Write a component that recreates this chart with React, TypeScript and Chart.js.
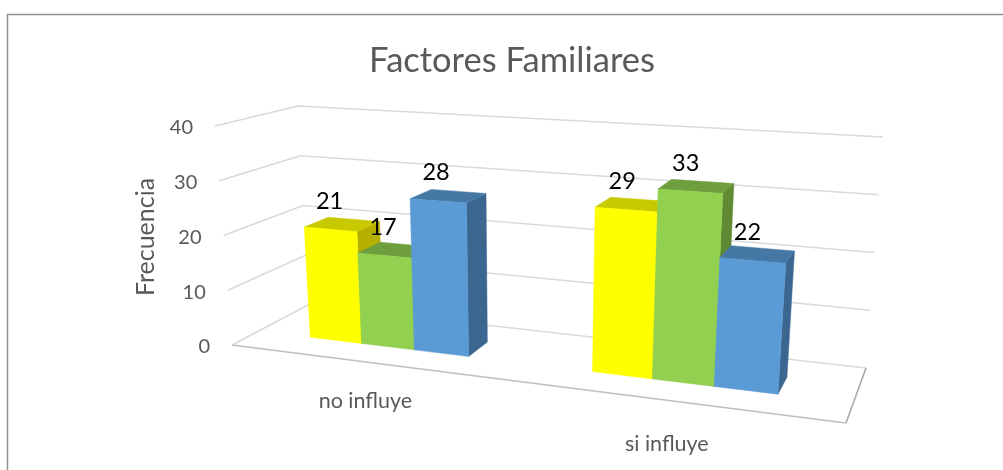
import React, { useEffect, useRef } from "react";
import { Chart, registerables } from "chart.js";

Chart.register(...registerables);

const categories = ["no influye", "si influye"];
const yellowValues = [21, 29];
const greenValues = [17, 33];
const blueValues = [28, 22];
const titleText = "Factores Familiares";
const yAxisTitle = "Frecuencia";

type P = [number, number];

function quad(p0: P, p1: P, p2: P, p3: P) {
  const dx1 = p1[0] - p2[0], dx2 = p3[0] - p2[0], sx = p0[0] - p1[0] + p2[0] - p3[0];
  const dy1 = p1[1] - p2[1], dy2 = p3[1] - p2[1], sy = p0[1] - p1[1] + p2[1] - p3[1];
  const det = dx1 * dy2 - dx2 * dy1;
  const g = (sx * dy2 - dx2 * sy) / det;
  const h = (dx1 * sy - sx * dy1) / det;
  const a = p1[0] - p0[0] + g * p1[0], b = p3[0] - p0[0] + h * p3[0];
  const d = p1[1] - p0[1] + g * p1[1], e = p3[1] - p0[1] + h * p3[1];
  return (u: number, v: number): P => {
    const q = g * u + h * v + 1;
    return [(a * u + b * v + p0[0]) / q, (d * u + e * v + p0[1]) / q];
  };
}

// u: along categories, v: depth (0 front, 1 back)
const floorPlane = quad([232, 345], [846, 423], [866, 368], [308, 305]);
const topPlane = quad([215, 126], [866, 165], [883, 137], [298, 106]);
const project = (u: number, v: number, w: number): P => {
  const a = floorPlane(u, v);
  const b = topPlane(u, v);
  return [a[0] + (b[0] - a[0]) * w, a[1] + (b[1] - a[1]) * w];
};

const DEPTH_FRONT = 0.33;
const DEPTH_BACK = 0.65;
const BAR_U_SHIFT = -0.005;
const BAR_W_SCALE = 0.975;
const LABEL_FONT = "Lato, sans-serif";

const poly = (ctx: CanvasRenderingContext2D, pts: P[], fill: string) => {
  ctx.beginPath();
  pts.forEach((p, i) => (i ? ctx.lineTo(p[0], p[1]) : ctx.moveTo(p[0], p[1])));
  ctx.closePath();
  ctx.fillStyle = fill;
  ctx.fill();
  ctx.strokeStyle = fill;
  ctx.lineWidth = 0.5;
  ctx.stroke();
};

const line = (ctx: CanvasRenderingContext2D, pts: P[], color: string, width: number) => {
  ctx.beginPath();
  pts.forEach((p, i) => (i ? ctx.lineTo(p[0], p[1]) : ctx.moveTo(p[0], p[1])));
  ctx.strokeStyle = color;
  ctx.lineWidth = width;
  ctx.stroke();
};

const perspectivePlugin = {
  id: "perspective",
  beforeDatasetsDraw(chart: any) {
    const { ctx, chartArea: area, scales } = chart;
    const yScale = scales.y;
    const xScale = scales.x;
    const toU = (px: number) => (px - area.left) / (area.right - area.left);
    const toW = (px: number) => (area.bottom - px) / (area.bottom - area.top);

    ctx.save();
    // chart frame: left and top edges only are inside the picture
    line(ctx, [[7.5, 470], [7.5, 14.5], [1003, 14.5]], "#8f8f8f", 1.5);

    // walls and grid
    for (const tick of yScale.ticks) {
      const w = toW(yScale.getPixelForValue(tick.value));
      const a = project(0, 0, w), b = project(0, 1, w), c = project(1, 1, w);
      line(ctx, [a, b, c], "#d9d9d9", 1.5);
      ctx.fillStyle = "#595959";
      ctx.font = `20px ${LABEL_FONT}`;
      ctx.textAlign = "right";
      ctx.textBaseline = "middle";
      ctx.fillText(String(tick.value), a[0] - 22, a[1] + 2);
    }
    line(ctx, [project(0, 0, 0), project(1, 0, 0)], "#bfbfbf", 1.5);
    line(ctx, [project(1, 0, 0), project(1, 1, 0)], "#a6a6a6", 1.5);

    // bars, left to right
    const metas = chart.data.datasets.map((_: any, i: number) => chart.getDatasetMeta(i));
    categories.forEach((_, c) => {
      metas.forEach((meta: any, s: number) => {
        const ds = chart.data.datasets[s];
        const el = meta.data[c];
        const u0 = toU(el.x - el.width / 2) + BAR_U_SHIFT, u1 = toU(el.x + el.width / 2) + BAR_U_SHIFT;
        const w = toW(el.y) * BAR_W_SCALE;
        const f = DEPTH_FRONT, b = DEPTH_BACK;
        poly(ctx, [project(u1, f, 0), project(u1, b, 0), project(u1, b, w), project(u1, f, w)], ds.sideColor);
        poly(ctx, [project(u0, f, w), project(u1, f, w), project(u1, b, w), project(u0, b, w)], ds.topColor);
        poly(ctx, [project(u0, f, 0), project(u1, f, 0), project(u1, f, w), project(u0, f, w)], ds.backgroundColor);
      });
    });

    // value labels
    ctx.fillStyle = "#000000";
    ctx.font = `23.5px ${LABEL_FONT}`;
    ctx.textAlign = "center";
    ctx.textBaseline = "middle";
    categories.forEach((_, c) => {
      metas.forEach((meta: any, s: number) => {
        const el = meta.data[c];
        const u = toU(el.x) + BAR_U_SHIFT;
        const p = project(u, DEPTH_FRONT, toW(el.y) * BAR_W_SCALE);
        ctx.fillText(String(chart.data.datasets[s].data[c]), p[0] - 6 * u, p[1] - 28);
      });
    });

    // category labels
    ctx.fillStyle = "#595959";
    ctx.font = `21.5px ${LABEL_FONT}`;
    categories.forEach((label, c) => {
      const u = toU(xScale.getPixelForValue(c));
      const p = project(u, 0, 0);
      ctx.fillText(label, p[0] - 8 * u, p[1] + 37 + 8 * u);
    });

    // value axis title
    ctx.translate(146, 237);
    ctx.rotate(-Math.PI / 2);
    ctx.font = `25px ${LABEL_FONT}`;
    ctx.fillText(yAxisTitle, 0, 0);
    ctx.restore();
    return false;
  },
};

export default function App() {
  const ref = useRef<HTMLCanvasElement>(null);
  useEffect(() => {
    const chart = new Chart(ref.current!, {
      type: "bar",
      data: {
        labels: categories,
        datasets: [
          { data: yellowValues, backgroundColor: "#ffff00", topColor: "#c9c900", sideColor: "#b5b000" },
          { data: greenValues, backgroundColor: "#92d050", topColor: "#6f9e3e", sideColor: "#5f8a33" },
          { data: blueValues, backgroundColor: "#5b9bd5", topColor: "#4678a6", sideColor: "#3a6690" },
        ] as any,
      },
      options: {
        animation: false,
        responsive: false,
        layout: { padding: { left: 21, top: 40, right: 0, bottom: 0 } },
        datasets: { bar: { categoryPercentage: 0.58, barPercentage: 1 } },
        plugins: {
          legend: { display: false },
          tooltip: { enabled: false },
          title: {
            display: true,
            text: titleText,
            color: "#595959",
            font: { family: LABEL_FONT, size: 34.5, weight: "normal" },
            padding: { top: 0, bottom: 10 },
          },
        },
        scales: {
          x: { display: false },
          y: { display: false, min: 0, max: 40, ticks: { stepSize: 10 } },
        },
      },
      plugins: [perspectivePlugin],
    } as any);
    return () => chart.destroy();
  }, []);
  return (
    <canvas
      ref={ref}
      width={1003}
      height={470}
      style={{ position: "fixed", left: 0, top: 0, display: "block", background: "#fff", filter: "blur(0.3px)" }}
    />
  );
}
